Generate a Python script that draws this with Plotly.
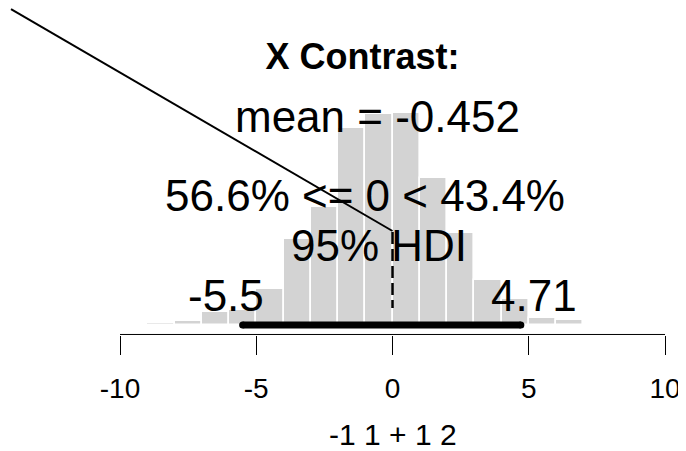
import plotly.graph_objects as go

# ---- data ----
bin_left = [-9, -8, -7, -6, -5, -4, -3, -2, -1, 0, 1, 2, 3, 4, 5, 6]
bin_width = 1.0
density = [0.0016, 0.0029, 0.0110, 0.0124, 0.0294, 0.0706, 0.0969, 0.1620,
           0.1738, 0.1746, 0.1213, 0.0755, 0.0371, 0.0214, 0.0055, 0.0041]
hdi_low = -5.5
hdi_high = 4.71
mean_val = -0.452
comp_val = 0
pct_below = 56.6
pct_above = 43.4
tick_vals = [-10, -5, 0, 5, 10]
tick_text = ["-10", "-5", "0", "5", "10"]
title_text = "X Contrast:"
xlabel_text = "-1 1 + 1 2"
stray_line_x = [-14.0, 0.0]
stray_line_y = [0.2602, 0.0774]
comp_line_y = [0.0766, 0.014]

FONT = "Liberation Sans, Arial, sans-serif"
PX_X = 27.25      # pixels per x unit
PX_Y = 1214.3     # pixels per density unit
OFF = 8           # page body margin

W, H = 686 - OFF, 451 - OFF
plot_bottom = 335 - OFF
y0_px = 325 - OFF

bin_centers = [b + bin_width / 2 for b in bin_left]

fig = go.Figure()
fig.add_trace(go.Bar(
    x=bin_centers, y=density, width=[bin_width] * len(bin_left),
    marker=dict(color="#D3D3D3", line=dict(color="white", width=1.6)),
    hoverinfo="skip", showlegend=False))

fig.add_trace(go.Scatter(x=stray_line_x, y=stray_line_y, mode="lines",
                         line=dict(color="black", width=2), showlegend=False,
                         hoverinfo="skip"))
fig.add_trace(go.Scatter(x=[comp_val, comp_val], y=comp_line_y, mode="lines",
                         line=dict(color="black", width=2.5, dash="12px,5px"),
                         showlegend=False, hoverinfo="skip"))
fig.add_trace(go.Scatter(x=[hdi_low, hdi_high], y=[0, 0], mode="lines+markers",
                         line=dict(color="black", width=7),
                         marker=dict(color="black", size=7, symbol="circle"),
                         showlegend=False, hoverinfo="skip"))
fig.add_trace(go.Scatter(x=[tick_vals[0], tick_vals[-1]], y=[-0.0078, -0.0078],
                         mode="lines", line=dict(color="black", width=1),
                         showlegend=False, hoverinfo="skip"))

def ty(py):
    # reference page pixel (caps centre) -> data y, with text box offset
    return (325 - py + 4) / PX_Y

txt = dict(font=dict(family=FONT, size=44, color="black"), showarrow=False,
           xref="x", yref="y", xanchor="center", yanchor="middle")
fig.add_annotation(x=(378 - 393) / PX_X, y=ty(120), text=f"mean = {mean_val}", **txt)
fig.add_annotation(x=(365 - 393) / PX_X, y=ty(199),
                   text=f"{pct_below}% <= {comp_val} < {pct_above}%", **txt)
fig.add_annotation(x=(379 - 393) / PX_X, y=ty(249), text="95% HDI", **txt)
fig.add_annotation(x=(226.7 - 393) / PX_X, y=ty(299.5), text=f"{hdi_low}", **txt)
fig.add_annotation(x=(534 - 393) / PX_X, y=ty(299.5), text=f"{hdi_high}", **txt)

# x axis label centred on zero like the reference
fig.add_annotation(x=comp_val, xref="x", yref="paper",
                   y=(plot_bottom - (437 - OFF - 3)) / plot_bottom,
                   xanchor="center", yanchor="middle", showarrow=False,
                   text=xlabel_text, font=dict(family=FONT, size=30, color="black"))

fig.update_layout(
    width=W, height=H,
    margin=dict(l=0, r=0, t=0, b=H - plot_bottom),
    plot_bgcolor="white", paper_bgcolor="white",
    bargap=0,
    title=dict(text=f"<b>{title_text}</b>", x=(362.5 - OFF) / W, xanchor="center",
               y=1 - (56.7 - OFF) / H, yanchor="middle", yref="container",
               font=dict(family=FONT, size=36, color="black")),
    xaxis=dict(range=[-10 - (120 - OFF) / PX_X, 10 + (W - (665 - OFF)) / PX_X],
               tickvals=tick_vals, ticktext=tick_text, ticks="outside", ticklen=19,
               tickwidth=1, tickcolor="black", showgrid=False, zeroline=False,
               showline=False, ticklabelstandoff=9, ticklabeloverflow="allow",
               tickfont=dict(family=FONT, size=28, color="black")),
    yaxis=dict(range=[(y0_px - plot_bottom) / PX_Y, y0_px / PX_Y], visible=False),
)
fig.write_html("out.html")
